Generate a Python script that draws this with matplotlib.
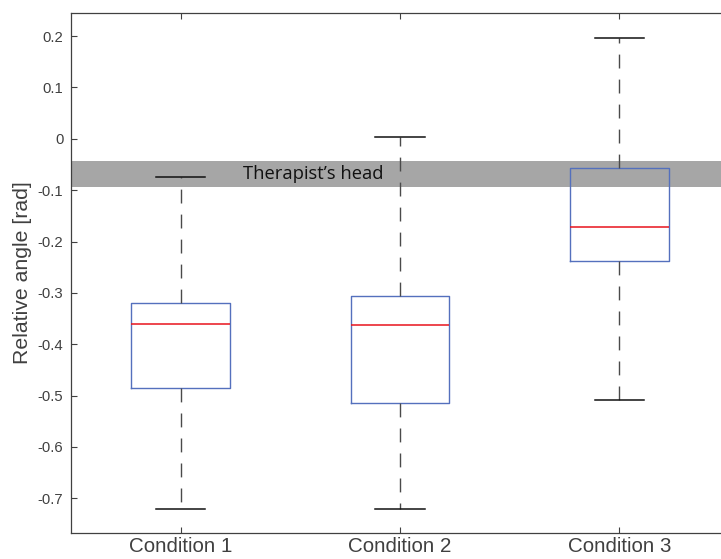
import matplotlib
matplotlib.use("Agg")
import matplotlib.pyplot as plt

# values (radians)
conditions = ["Condition 1", "Condition 2", "Condition 3"]
whisker_low = [-0.721, -0.721, -0.509]
q1 = [-0.486, -0.515, -0.238]
median = [-0.360, -0.363, -0.172]
q3 = [-0.319, -0.306, -0.057]
whisker_high = [-0.074, 0.004, 0.196]

head_low = -0.093
head_high = -0.043
head_label = "Therapist\u2019s head"

plt.rcParams['font.family'] = ['Liberation Sans', 'DejaVu Sans']
plt.rcParams['lines.scale_dashes'] = False

fig = plt.figure(figsize=(7.21, 5.59), dpi=100)
ax = fig.add_axes([0.0985, 0.047, 0.9126, 0.9297])

ax.axhspan(head_low, head_high, color='#a6a6a6', lw=0, zorder=0)

stats = []
for i in range(len(conditions)):
    stats.append({
        'label': conditions[i],
        'whislo': whisker_low[i],
        'q1': q1[i],
        'med': median[i],
        'q3': q3[i],
        'whishi': whisker_high[i],
        'fliers': [],
    })

ax.bxp(stats, positions=[1, 2, 3], widths=0.45, showfliers=False,
       boxprops=dict(color='#5470bd', lw=1.0),
       medianprops=dict(color='#e8141c', lw=1.1),
       whiskerprops=dict(color='#4a4a4a', lw=1.0, linestyle=(0, (10, 8))),
       capprops=dict(color='#111111', lw=1.1),
       capwidths=0.225, zorder=2)

ax.text(1.284, (head_low + head_high) / 2, head_label, fontsize=13.2,
        family=['Open Sans', 'DejaVu Sans'], color='#111111',
        ha='left', va='center', zorder=3)

ax.set_xlim(0.5, 3.5)
ax.set_ylim(-0.767, 0.245)
ax.set_yticks([0.2, 0.1, 0, -0.1, -0.2, -0.3, -0.4, -0.5, -0.6, -0.7])
ax.set_yticklabels(['0.2', '0.1', '0', '-0.1', '-0.2', '-0.3', '-0.4',
                    '-0.5', '-0.6', '-0.7'])
ax.set_xticks([1, 2, 3])
ax.set_xticklabels(conditions)

for s in ax.spines.values():
    s.set_color('#404040')
    s.set_linewidth(0.9)

ax.tick_params(axis='y', direction='in', length=4.5, width=0.8,
               colors='#404040', labelsize=10.7, pad=5.5, right=True)
ax.tick_params(axis='x', direction='in', length=4.5, width=0.8,
               colors='#404040', labelsize=14.8, pad=3, top=True)
for lab in ax.get_xticklabels() + ax.get_yticklabels():
    lab.set_color('#404040')

ax.set_ylabel('Relative angle [rad]', fontsize=15.3, color='#404040',
              labelpad=4)

fig.savefig('out.png', dpi=100)
